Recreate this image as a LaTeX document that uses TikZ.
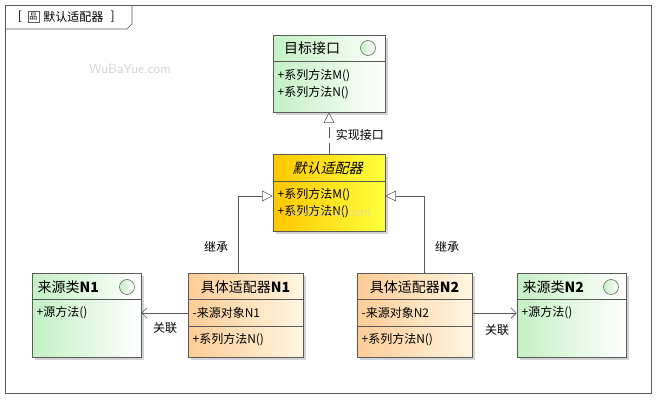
\documentclass[tikz,border=0pt]{standalone}
\usepackage{fontspec}
\setmainfont{Noto Sans CJK SC}
\usetikzlibrary{positioning,shadows,arrows.meta,calc}

\definecolor{greenA}{RGB}{196,240,196}
\definecolor{yellowA}{RGB}{255,200,0}
\definecolor{yellowB}{RGB}{255,255,60}
\definecolor{orangeA}{RGB}{252,204,150}
\definecolor{orangeB}{RGB}{255,246,224}
\definecolor{lineC}{RGB}{90,90,90}

\begin{document}
\begin{tikzpicture}[x=0.75pt,y=-0.75pt,font=\fontsize{9}{10}\selectfont,
	umlbox/.style={draw=lineC,minimum width=112*0.75pt,minimum height=77*0.75pt,inner sep=0pt,
		drop shadow={shadow xshift=2pt,shadow yshift=-2pt,opacity=0.35,fill=gray}},
	greenbox/.style={umlbox,left color=greenA,right color=white},
	yellowbox/.style={umlbox,left color=yellowA,right color=yellowB},
	orangebox/.style={umlbox,left color=orangeA,right color=orangeB},
	ifc/.style={circle,draw=lineC,left color=greenA,right color=white,minimum size=15*0.75pt,inner sep=0pt},
	member/.style={anchor=west,inner sep=1pt},
	head/.style={inner sep=1pt,font=\fontsize{10.5}{12}\selectfont},
	wmark/.style={text=gray!35,font=\sffamily\fontsize{10}{12}\selectfont},
	lbl/.style={inner sep=1pt},
	conn/.style={draw=lineC,thin},
	gen/.style={conn,-{Triangle[open,length=8pt,width=8pt]}},
	assoc/.style={conn,-{Straight Barb[length=4pt,width=8pt]}}]

\useasboundingbox (0,0) rectangle (666,407);

% frame
\draw[lineC] (5,5) rectangle (651,393);
\draw[lineC] (5,29) -- (127,29) -- (132,24) -- (132,5);
\node[inner sep=1pt] (lbr) at (20,17) {[};
\node[draw=lineC,minimum size=11*0.75pt,inner sep=0pt,font=\fontsize{6}{7}\selectfont,right=3pt of lbr] (icon) {品};
\node[inner sep=1pt,right=2pt of icon] (title) {默认适配器};
\node[inner sep=1pt,right=3pt of title] (rbr) {]};

% watermarks
\node[wmark] (w1) at (130,69) {WuBaYue.com};
\node[wmark] (w3) at (565,340) {WuBaYue.com};

% boxes
\node[greenbox] (target) at (329,73.5) {};
\node[yellowbox] (default) at (329,192.5) {};
\node[greenbox,minimum width=109*0.75pt,minimum height=84*0.75pt] (srcA) at (86.5,315) {};
\node[orangebox,minimum width=115*0.75pt,minimum height=84*0.75pt] (adA) at (245.5,315) {};
\node[orangebox,minimum width=115*0.75pt,minimum height=84*0.75pt] (adB) at (414.5,315) {};
\node[greenbox,minimum width=109*0.75pt,minimum height=84*0.75pt] (srcB) at (571.5,315) {};

% compartments
\draw[lineC] ($(target.north west)+(0,27)$) -- ($(target.north east)+(0,27)$);
\draw[lineC] ($(default.north west)+(0,28)$) -- ($(default.north east)+(0,28)$);
\foreach \b in {srcA,adA,adB,srcB}
	\draw[lineC] ($(\b.north west)+(0,27)$) -- ($(\b.north east)+(0,27)$);
\foreach \b in {adA,adB}
	\draw[lineC] ($(\b.north west)+(0,54)$) -- ($(\b.north east)+(0,54)$);

% headers
\node[head] (targetH) at (312,48) {目标接口};
\node[ifc] (targetI) at (368,48) {};
\node[head,xslant=0.25] (defaultH) at (329,168) {默认适配器};
\node[head,anchor=west] (srcAH) at (36,287) {来源类\textbf{N1}};
\node[ifc] (srcAI) at (127,287) {};
\node[head] (adAH) at (245.5,287) {具体适配器\textbf{N1}};
\node[head] (adBH) at (414.5,287) {具体适配器\textbf{N2}};
\node[head,anchor=west] (srcBH) at (521,287) {来源类\textbf{N2}};
\node[ifc] (srcBI) at (611,287) {};

% members
\node[member] (t1) at (276,76) {+系列方法M()};
\node[member] (t2) at (276,93) {+系列方法N()};
\node[member] (d1) at (276,195) {+系列方法M()};
\node[member] (d2) at (276,212) {+系列方法N()};
\node[wmark,opacity=0.6] (w2) at (330,212) {WuBaYue.com};
\node[member] (sA1) at (35,313) {+源方法()};
\node[member] (aA1) at (191,313) {-来源对象N1};
\node[member] (aA2) at (191,340) {+系列方法N()};
\node[member] (aB1) at (360,313) {-来源对象N2};
\node[member] (aB2) at (360,340) {+系列方法N()};
\node[member] (sB1) at (520,313) {+源方法()};

% connectors
\draw[gen,dash pattern=on 8pt off 4pt] (default.north) -- (target.south)
	node[lbl,pos=0.45,right=4pt] {实现接口};
\coordinate (jA) at (238,196);
\coordinate (jB) at (424,196);
\draw[gen] (adA.north -| jA) -- (jA) -- (jA -| default.west);
\draw[gen] (adB.north -| jB) -- (jB) -- (jB -| default.east);
\node[lbl] (inhA) at (216,247) {继承};
\node[lbl] (inhB) at (447,247) {继承};
\draw[assoc] (adA.west |- aA1) -- (srcA.east |- aA1);
\draw[assoc] (adB.east |- aB1) -- (srcB.west |- aB1);
\node[lbl] (asA) at (165,328) {关联};
\node[lbl] (asB) at (497,330) {关联};
\end{tikzpicture}
\end{document}
